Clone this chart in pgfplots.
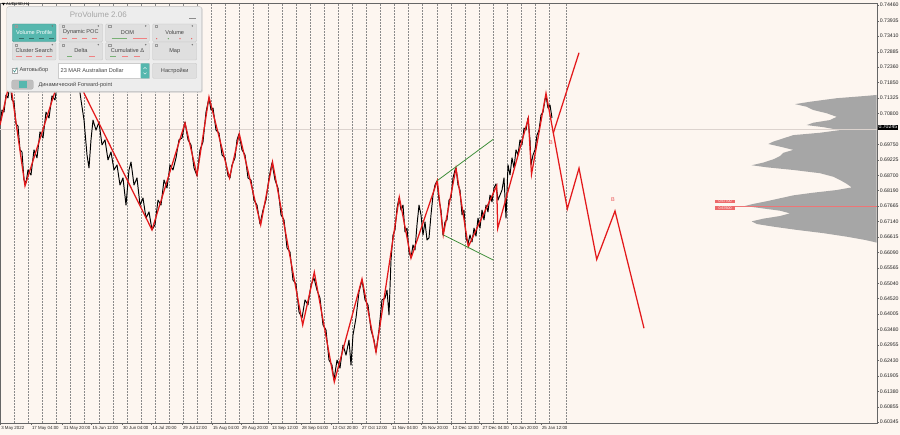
\documentclass[border=0pt]{standalone}
\usepackage{pgfplots}
\pgfplotsset{compat=1.18}
\usepackage{fontspec}
\setmainfont{Liberation Sans}
\definecolor{bg}{HTML}{FDF6F0}
\definecolor{zz}{HTML}{E3191B}
\definecolor{grn}{HTML}{3F8F3A}
\definecolor{tealc}{HTML}{56B7AE}
\definecolor{panelc}{HTML}{EDEDED}
\definecolor{btn}{HTML}{DFDFDF}
\definecolor{btnline}{HTML}{C4C4C4}
\definecolor{vp}{HTML}{A6A6A6}
\definecolor{sep}{HTML}{8A8A8A}
\definecolor{cur}{HTML}{DCD3CE}
\definecolor{txt}{HTML}{454545}
\pgfplotstableread{
x y
0 0.7040
2 0.7091
4 0.7084
6 0.7142
8 0.7132
10 0.7186
12 0.7125
14 0.7118
16 0.7044
18 0.7037
20 0.6956
22 0.6949
24 0.6854
26 0.6844
28 0.6888
31 0.6871
34 0.6956
37 0.6929
40 0.7017
43 0.6996
46 0.7084
49 0.7064
52 0.7139
55 0.7125
58 0.7200
61 0.7193
64 0.7267
66 0.7254
69 0.7227
72 0.7247
75 0.7179
78 0.7200
81 0.7125
84 0.7057
87 0.6939
89 0.6895
91 0.6990
93 0.7057
96 0.7023
99 0.7050
102 0.6973
105 0.6990
108 0.6922
111 0.6949
114 0.6888
117 0.6905
120 0.6837
123 0.6861
126 0.6769
129 0.6888
131 0.6915
134 0.6837
137 0.6861
140 0.6769
143 0.6793
146 0.6725
149 0.6746
152 0.6685
155 0.6702
158 0.6786
161 0.6769
164 0.6854
167 0.6827
170 0.6905
173 0.6888
176 0.6929
179 0.6990
182 0.6996
185 0.7050
188 0.6990
191 0.6973
194 0.6895
197 0.6868
200 0.6956
203 0.6983
206 0.7084
209 0.7132
211 0.7091
213 0.7098
216 0.7023
219 0.7013
222 0.6939
225 0.6929
228 0.6868
230 0.6861
232 0.6905
235 0.6929
237 0.6990
239 0.7010
242 0.6956
245 0.6939
248 0.6861
251 0.6854
254 0.6786
257 0.6769
260 0.6705
263 0.6752
266 0.6786
269 0.6861
272 0.6912
275 0.6854
278 0.6827
281 0.6736
284 0.6719
287 0.6624
290 0.6610
293 0.6515
296 0.6502
299 0.6407
302 0.6387
305 0.6448
308 0.6431
311 0.6498
314 0.6522
317 0.6481
320 0.6454
323 0.6363
326 0.6346
329 0.6244
332 0.6227
334 0.6177
337 0.6244
340 0.6217
343 0.6295
346 0.6261
349 0.6312
351 0.6227
353 0.6329
356 0.6387
359 0.6475
362 0.6515
365 0.6448
368 0.6431
371 0.6346
374 0.6312
376 0.6271
379 0.6346
382 0.6448
385 0.6454
387 0.6481
389 0.6397
391 0.6583
393 0.6668
395 0.6685
397 0.6759
399 0.6793
401 0.6752
403 0.6769
405 0.6678
407 0.6691
409 0.6610
411 0.6590
413 0.6634
415 0.6617
417 0.6702
419 0.6769
421 0.6736
423 0.6668
425 0.6712
427 0.6651
429 0.6658
431 0.6736
433 0.6803
435 0.6837
437 0.6851
439 0.6786
441 0.6752
443 0.6668
445 0.6712
447 0.6719
449 0.6786
451 0.6793
453 0.6861
455 0.6888
456 0.6895
458 0.6837
460 0.6820
462 0.6736
464 0.6752
466 0.6658
468 0.6637
470 0.6668
472 0.6644
474 0.6691
476 0.6664
478 0.6725
480 0.6691
482 0.6752
484 0.6719
486 0.6769
488 0.6746
490 0.6803
492 0.6780
494 0.6827
496 0.6841
498 0.6786
500 0.6803
502 0.6820
504 0.6861
506 0.6725
508 0.6905
510 0.6871
512 0.6929
514 0.6895
516 0.6956
518 0.6939
520 0.6990
522 0.6973
524 0.7030
526 0.7023
528 0.7064
530 0.6990
531 0.6905
533 0.6939
535 0.6956
537 0.7006
539 0.7023
541 0.7074
543 0.7084
545 0.7125
546 0.7139
548 0.7098
550 0.7108
552 0.7064
}\price
\pgfplotstableread{
x y
0 0.7040
10 0.7193
25 0.6834
66 0.7271
152 0.6685
185 0.7047
197 0.6871
209 0.7135
229.5 0.6861
239.3 0.7010
260.7 0.6702
272.5 0.6915
302.7 0.6363
314.3 0.6542
334.3 0.6170
362 0.6519
376 0.6271
399.3 0.6796
411 0.6589
437.3 0.6852
443.3 0.6668
456 0.6894
468.3 0.6628
496.7 0.6834
497.7 0.6690
528.3 0.7063
531.5 0.6873
546 0.7148
567.3 0.6756
579 0.6894
596.7 0.6585
615 0.6749
644 0.6352
}\zigzag
\pgfplotstableread{
x y
876.7 0.7142
866.7 0.7139
836.7 0.7131
810 0.7119
795 0.7111
806.7 0.7102
813.3 0.7091
826.7 0.7080
836.7 0.7068
830 0.7057
813.3 0.7048
806.7 0.7040
823.3 0.7033
840 0.7023
820 0.7014
793.3 0.7006
783.3 0.6995
773.3 0.6984
768.3 0.6976
780 0.6967
793.3 0.6956
783.3 0.6946
780 0.6935
773.3 0.6924
763.3 0.6913
751.7 0.6904
766.7 0.6897
793.3 0.6888
820 0.6877
833.3 0.6865
840 0.6854
846.7 0.6841
851.7 0.6829
836.7 0.6820
813.3 0.6811
793.3 0.6802
780 0.6792
766.7 0.6782
753.3 0.6773
745 0.6766
760 0.6759
780 0.6750
790 0.6741
780 0.6732
763.3 0.6723
751.7 0.6714
756.7 0.6705
773.3 0.6696
796.7 0.6685
823.3 0.6674
846.7 0.6662
865 0.6651
876.7 0.6642
}\profile
\begin{document}
\begin{tikzpicture}[x=1pt,y=1pt]
\fill[bg] (0,0) rectangle (900,435);
\useasboundingbox (0,0) rectangle (900,435);
\begin{axis}[
  at={(0pt,12pt)}, anchor=south west,
  width=877pt, height=420pt, scale only axis,
  xmin=0, xmax=877, ymin=0.60310, ymax=0.74535,
  axis background/.style={fill=bg},
  axis line style={draw=black!60, line width=0.6pt},
  tick align=outside, major tick length=2pt,
  tick style={draw=black!60, line width=0.4pt},
  ytick pos=right, yticklabel pos=right, xtick pos=bottom,
  ytick={0.74460,0.73935,0.73410,0.72885,0.72360,0.71850,0.71325,0.70800,0.69750,0.69225,0.68700,0.68190,0.67665,0.67140,0.66615,0.66090,0.65565,0.65040,0.64520,0.64005,0.63480,0.62955,0.62430,0.61905,0.61380,0.60855,0.60345},
  yticklabels={0.74460,0.73935,0.73410,0.72885,0.72360,0.71850,0.71325,0.70800,0.69750,0.69225,0.68700,0.68190,0.67665,0.67140,0.66615,0.66090,0.65565,0.65040,0.64520,0.64005,0.63480,0.62955,0.62430,0.61905,0.61380,0.60855,0.60345},
  yticklabel style={font=\fontsize{5.2}{6}\selectfont, anchor=west, inner sep=0.6pt, text=black!85},
  xtick={0,30.7,62.3,91.3,121.7,151.3,181.7,211.7,240.7,270.7,300.7,331.3,360.7,390.7,420.7,451.3,481.3,511.3,540.7},
  xticklabels={3 May 2022,17 May 04:00,31 May 20:00,15 Jun 12:00,30 Jun 04:00,14 Jul 20:00,29 Jul 12:00,15 Aug 04:00,29 Aug 20:00,13 Sep 12:00,28 Sep 04:00,12 Oct 20:00,27 Oct 12:00,11 Nov 04:00,25 Nov 20:00,12 Dec 12:00,27 Dec 04:00,10 Jan 20:00,25 Jan 12:00},
  xticklabel style={font=\fontsize{4.4}{5}\selectfont, anchor=north west, inner sep=0.8pt, xshift=0.3pt, text=black!85},
  extra x ticks={14.28,28.37,42.45,56.53,70.62,84.70,98.78,112.86,126.95,141.03,155.11,169.20,183.28,197.36,211.45,225.53,239.61,253.69,267.78,281.86,295.94,310.03,324.11,338.19,352.28,366.36,380.44,394.52,408.61,422.69,436.77,450.86,464.94,479.02,493.11,507.19,521.27,535.35,549.44,566.7},
  extra x tick labels={},
  extra x tick style={xmajorgrids=true, major tick length=0pt, major grid style={draw=sep, line width=0.5pt, dash pattern=on 1.6pt off 1.4pt}},
]
% volume profile
\addplot[fill=vp, draw=none] table[x=x,y=y]{\profile};
% current price line
\addplot[cur, line width=0.8pt] coordinates {(0,0.70245) (877,0.70245)};
% POC line
\addplot[zz!60, line width=0.4pt] coordinates {(735,0.6766) (877,0.6766)};
% price
\addplot[black, line width=0.95pt, line join=round] table[x=x,y=y]{\price};
% zigzag
\addplot[zz, line width=1.25pt, line join=miter] table[x=x,y=y]{\zigzag};
\addplot[zz, line width=1.25pt] coordinates {(553.3,0.7013) (579,0.7285)};
% broadening lines
\addplot[grn, line width=0.8pt] coordinates {(437.3,0.6852) (493.3,0.6992)};
\addplot[grn, line width=0.8pt] coordinates {(443.3,0.6668) (493.3,0.6583)};
\end{axis}
% labels on chart
\node[text=zz!75, font=\fontsize{5.5}{5}\selectfont] at (613,235) {B};
\node[text=zz!75, font=\fontsize{5.5}{5}\selectfont] at (551,292) {B};
\node[fill=zz!65, text=white, font=\fontsize{3.6}{4}\selectfont, inner sep=0.5pt, minimum width=20pt] at (725,233.5) {0.67700};
\node[fill=zz!65, text=white, font=\fontsize{3.6}{4}\selectfont, inner sep=0.5pt, minimum width=20pt] at (725,227.2) {0.67600};
% current price box
\node[fill=black, text=white, font=\fontsize{5.2}{6}\selectfont, inner sep=0.7pt, anchor=west] at (877.6,307.8) {0.70245};
% symbol label
\fill[black] (2,432) -- (5,432) -- (3.5,429.5) -- cycle;
\node[anchor=west, font=\fontsize{4}{4}\selectfont, inner sep=0pt] at (6,430.5) {AUDUSD,H4};
% panel
\fill[black!18, rounded corners=2pt] (7.5,342.3) rectangle (202.7,427.5);
\filldraw[fill=panelc, draw=black!25, rounded corners=2pt, line width=0.4pt] (6.7,343.3) rectangle (201.7,428.3);
\node[text=black!35, font=\fontsize{8}{8}\selectfont] at (98.3,420.5) {ProVolume 2.06};
\draw[black!45, line width=0.6pt] (189,417) -- (196,417);
% buttons row 1
\filldraw[fill=tealc, draw=tealc!80!black, rounded corners=1pt, line width=0.3pt] (12.3,393.3) rectangle (56,411);
\foreach \a/\b in {59/102.7,105.7/149.3,152.7/196.7}{
  \filldraw[fill=btn, draw=btnline, rounded corners=1pt, line width=0.3pt] (\a,393.3) rectangle (\b,411);
  \filldraw[fill=btn, draw=btnline, rounded corners=1pt, line width=0.3pt] (\a,375) rectangle (\b,392.3);
}
\filldraw[fill=btn, draw=btnline, rounded corners=1pt, line width=0.3pt] (12.3,375) rectangle (56,392.3);
\foreach \c in {52.3,98.3,145.7,192.3}{
  \fill[black!55] (\c,409) circle (0.8pt);
  \fill[black!55] (\c,390.3) circle (0.8pt);
}
\foreach \c in {15,61.7,108.3,155}{
  \draw[black!40, line width=0.3pt] (\c,408) rectangle (\c+2.5,410);
  \draw[black!40, line width=0.3pt] (\c,389.3) rectangle (\c+2.5,391.3);
}
\node[text=white, font=\fontsize{5.6}{6}\selectfont] at (34.2,402.5) {Volume Profile};
\node[text=txt, font=\fontsize{5.6}{6}\selectfont] at (80.9,402.5) {Dynamic POC};
\node[text=txt, font=\fontsize{5.6}{6}\selectfont] at (127.5,402.5) {DOM};
\node[text=txt, font=\fontsize{5.6}{6}\selectfont] at (174.7,402.5) {Volume};
\node[text=txt, font=\fontsize{5.6}{6}\selectfont] at (34.2,384) {Cluster Search};
\node[text=txt, font=\fontsize{5.6}{6}\selectfont] at (80.9,384) {Delta};
\node[text=txt, font=\fontsize{5.6}{6}\selectfont] at (127.5,384) {Cumulative Δ};
\node[text=txt, font=\fontsize{5.6}{6}\selectfont] at (174.7,384) {Map};
% button decorations
\foreach \a in {19,29,39,49}{\draw[tealc!60!black, line width=0.5pt] (\a,396.3) -- (\a+5,396.3);}
\foreach \a in {62,72,82,92}{\draw[zz!55, line width=0.5pt] (\a,396.3) -- (\a+5,396.3);}
\draw[grn!70, line width=0.6pt] (111.7,396.3) -- (126.7,396.3);
\draw[zz!55, line width=0.6pt] (133,396.3) -- (146.7,396.3);
\fill[zz!70] (156.7,396.3) circle (0.7pt);
\fill[grn!80] (168.3,396.3) circle (0.7pt);
\fill[zz!70] (180,396.3) circle (0.7pt);
\fill[zz!70] (191.7,396.3) circle (0.7pt);
\foreach \a in {16,26,36,46}{\draw[zz!55, line width=0.5pt] (\a,378.3) -- (\a+6,378.3);}
\draw[grn!70, line width=0.6pt] (67,378.3) -- (72,378.3);
\draw[zz!55, line width=0.6pt] (89,378.3) -- (95,378.3);
\draw[grn!70, line width=0.5pt] (110,378.3) -- (116,378.3);
\draw[zz!55, line width=0.5pt] (122,378.3) -- (128,378.3);
\draw[zz!55, line width=0.5pt] (134,378.3) -- (140,378.3);
% row 3
\filldraw[fill=white, draw=black!35, line width=0.3pt] (12.3,362) rectangle (17.3,367);
\draw[tealc!80!black, line width=0.6pt] (13.2,364.6) -- (14.6,363) -- (17.2,367.5);
\node[anchor=west, text=txt, font=\fontsize{5.6}{6}\selectfont, inner sep=0pt] at (19.5,364.5) {Автовыбор};
\filldraw[fill=white, draw=black!20, line width=0.3pt] (58.3,356.7) rectangle (149.3,371.7);
\fill[tealc, rounded corners=0.8pt] (140.7,356.7) rectangle (149.3,371.7);
\draw[white, line width=0.4pt] (143.5,366) -- (145,367.6) -- (146.5,366);
\draw[white, line width=0.4pt] (143.5,362.4) -- (145,360.8) -- (146.5,362.4);
\node[anchor=west, text=txt, font=\fontsize{5.6}{6}\selectfont, inner sep=0pt] at (60.5,364.2) {23 MAR Australian Dollar};
\filldraw[fill=btn, draw=btnline, rounded corners=1pt, line width=0.3pt] (152.7,356.7) rectangle (196.7,371.7);
\node[text=txt, font=\fontsize{5.6}{6}\selectfont] at (174.7,364.2) {Настройки};
% row 4
\filldraw[fill=black!25, draw=black!30, rounded corners=2pt, line width=0.3pt] (11.7,345.7) rectangle (33.3,355);
\fill[tealc] (18.6,346.6) rectangle (26.6,354.1);
\node[anchor=west, text=txt, font=\fontsize{5.6}{6}\selectfont, inner sep=0pt] at (38.3,350.3) {Динамический Forward-point};
\end{tikzpicture}
\end{document}
